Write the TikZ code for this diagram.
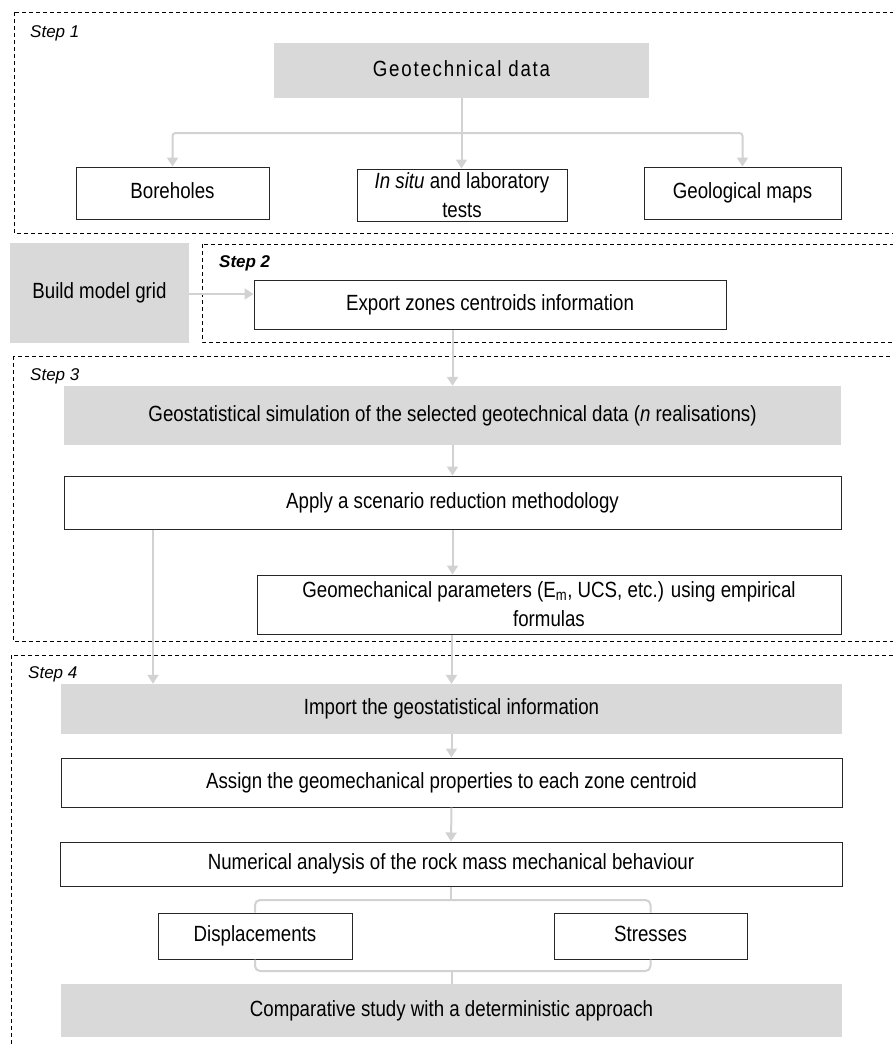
\documentclass[tikz,border=0pt]{standalone}
\usepackage{fontspec}
\setmainfont{Liberation Sans}[FakeStretch=0.85]
\newfontfamily\stepfont{Liberation Sans}
\usetikzlibrary{arrows.meta}
\definecolor{boxgray}{HTML}{D9D9D9}
\definecolor{linegray}{HTML}{D2D2D2}
\begin{document}
\begin{tikzpicture}[x=1pt,y=-1pt,
  every node/.style={font=\fontsize{22}{29}\selectfont, inner sep=0pt, align=center},
  one/.style={text height=16pt, text depth=5pt},
  wbox/.style={draw=black!85, line width=1pt, fill=white},
  gbox/.style={fill=boxgray},
  stepframe/.style={draw=black, dash pattern=on 4pt off 3pt, line width=0.9pt},
  steplabel/.style={font=\stepfont\fontsize{17}{19}\selectfont\itshape, anchor=west},
  arr/.style={draw=linegray, line width=2pt, -{Triangle[length=9pt,width=11pt]}},
  conn/.style={draw=linegray, line width=2pt},
  brk/.style={draw=linegray, line width=2pt, rounded corners=5pt},
]
\clip (0,0) rectangle (893,1045);
\fill[white] (0,0) rectangle (893,1045);

% step frames
\draw[stepframe] (14,12) rectangle (905,233);
\draw[stepframe] (202,244) rectangle (905,342);
\draw[stepframe] (13,356) rectangle (905,641);
\draw[stepframe] (11,655) rectangle (905,1070);

\node[steplabel] (s1) at (30,33) {Step 1};
\node[steplabel, font=\stepfont\fontsize{17}{19}\selectfont\bfseries\itshape] (s2) at (219,263) {Step 2};
\node[steplabel] (s3) at (30,376) {Step 3};
\node[steplabel] (s4) at (28,674) {Step 4};

% Step 1
\node[gbox, one, minimum width=375pt, minimum height=55pt] (geo) at (461.5,70.5) {\addfontfeature{LetterSpace=8}Geotechnical data};
\node[wbox, one, minimum width=193pt, minimum height=52pt] (bore) at (172.5,193) {Boreholes};
\node[wbox, minimum width=210pt, minimum height=52pt] (insitu) at (462,195) {\textit{In situ} and laboratory\\tests};
\node[wbox, one, minimum width=197pt, minimum height=52pt] (maps) at (742.5,193) {Geological maps};

% Step 2
\node[gbox, one, minimum width=179pt, minimum height=100pt] (build) at (99.5,293) {Build model grid};
\node[wbox, one, minimum width=472pt, minimum height=49pt] (export) at (490,304.5) {Export zones centroids information};

% Step 3
\node[gbox, one, minimum width=777pt, minimum height=59pt] (geostat) at (452.5,415.5) {Geostatistical simulation of the selected geotechnical data (\textit{n} realisations)};
\node[wbox, one, minimum width=777pt, minimum height=53pt] (apply) at (452.5,502.5) {Apply a scenario reduction methodology};
\node[wbox, minimum width=584pt, minimum height=59pt] (geomech) at (549,604.5) {Geomechanical parameters (E\textsubscript{m}, UCS, etc.) using empirical\\formulas};

% Step 4
\node[gbox, one, minimum width=781pt, minimum height=50pt] (import) at (451.5,709) {Import the geostatistical information};
\node[wbox, one, minimum width=781pt, minimum height=49pt] (assign) at (451.5,782.5) {Assign the geomechanical properties to each zone centroid};
\node[wbox, one, minimum width=782pt, minimum height=44pt] (numer) at (451,864) {Numerical analysis of the rock mass mechanical behaviour};
\node[wbox, one, minimum width=194pt, minimum height=46pt] (disp) at (255,936) {Displacements};
\node[wbox, one, minimum width=193pt, minimum height=46pt] (stress) at (650.5,936) {Stresses};
\node[gbox, one, minimum width=781pt, minimum height=53pt] (comp) at (451.5,1010.5) {Comparative study with a deterministic approach};

% connectors step 1
\coordinate (hy) at (0,133);
\draw[conn] (geo.south) -- (geo.south |- hy);
\draw[arr] (geo.south |- hy) -- (geo.south |- insitu.north);
\draw[arr, rounded corners=3pt] (geo.south |- hy) -| (bore.north);
\draw[arr, rounded corners=3pt] (geo.south |- hy) -| (maps.north);

% step 2
\draw[arr] (build.east |- 0,294) -- (export.west |- 0,294);
\draw[arr] (geostat.north |- export.south) -- (geostat.north);

% step 3
\draw[arr] (geostat.south) -- (apply.north);
\draw[arr] (apply.south) -- (apply.south |- geomech.north);
\coordinate (lx) at (153,0);
\draw[arr] (apply.south -| lx) -- (import.north -| lx);
\draw[arr] (import.north |- geomech.south) -- (import.north);

% step 4
\draw[arr] (import.south) -- (assign.north);
\draw[arr] (assign.south) -- (numer.north);
\coordinate (tb) at (0,900);
\coordinate (bb) at (0,971);
\draw[conn] (numer.south) -- (numer.south |- tb);
\draw[brk] (disp.north) -- (disp.north |- tb) -- (stress.north |- tb) -- (stress.north);
\draw[brk] (disp.south) -- (disp.south |- bb) -- (stress.south |- bb) -- (stress.south);
\draw[conn] (comp.north |- bb) -- (comp.north);
\end{tikzpicture}
\end{document}
